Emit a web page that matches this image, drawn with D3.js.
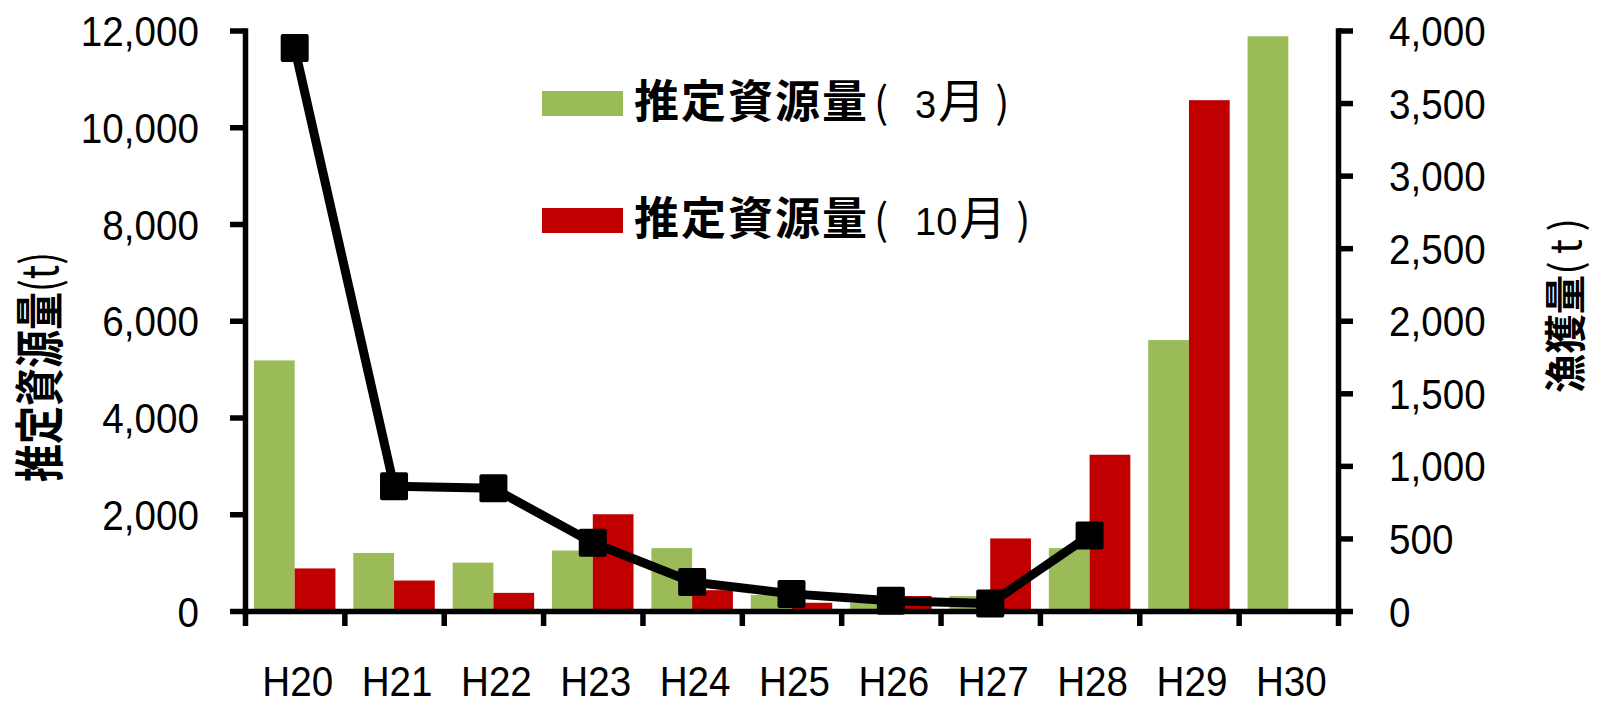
<!DOCTYPE html>
<html>
<head>
<meta charset="utf-8">
<script src="https://cdn.jsdelivr.net/npm/d3@7"></script>
<style>
  html, body { margin: 0; padding: 0; background: #fff; }
  svg { display: block; }
  .tick text { font-family: "Liberation Sans", Arial, sans-serif; fill: #000; }
</style>
</head>
<body>
<svg id="chart" width="1597" height="704"></svg>
<script>
// Fiscal years (Heisei era)
const years = ["H20", "H21", "H22", "H23", "H24", "H25", "H26", "H27", "H28", "H29", "H30"];
// Estimated stock biomass (t), March
const stockMarch = [5180, 1200, 1000, 1250, 1300, 330, 170, 310, 1300, 5600, 11880];
// Estimated stock biomass (t), October
const stockOctober = [880, 630, 375, 2000, 430, 170, 310, 1500, 3230, 10560, null];
// Catch (t)
const catchT = [3880, 860, 845, 470, 200, 118, 70, 52, 520, null, null];

const leftTicks = [0, 2000, 4000, 6000, 8000, 10000, 12000];
const rightTicks = [0, 500, 1000, 1500, 2000, 2500, 3000, 3500, 4000];

const seriesNames = ["推定資源量", "推定資源量"];
const seriesMonthNums = ["3", "10"];
const seriesColors = ["#9BBB59", "#C00000"];

const svg = d3.select("#chart");

const plot = { left: 245, right: 1338, top: 30.5, bottom: 611 };
const AXIS_W = 5.5;
const TXT_SX = 0.92;

const x = d3.scaleBand().domain(years).range([plot.left, plot.right])
  .paddingInner(0.18).paddingOuter(0.09);
const xSub = d3.scaleBand().domain([0, 1]).range([0, x.bandwidth()]);
const yL = d3.scaleLinear().domain([0, 12000]).range([plot.bottom, plot.top]);
const yR = d3.scaleLinear().domain([0, 4000]).range([plot.bottom, plot.top]);

// Bars: March and October biomass side by side in each year
const barData = [];
years.forEach((yr, i) => {
  [stockMarch[i], stockOctober[i]].forEach((v, s) => {
    if (v != null) barData.push({ yr, s, v });
  });
});
svg.append("g").selectAll("rect").data(barData).join("rect")
  .attr("x", d => x(d.yr) + xSub(d.s))
  .attr("width", xSub.bandwidth())
  .attr("y", d => yL(d.v))
  .attr("height", d => yL(0) - yL(d.v))
  .attr("fill", d => seriesColors[d.s]);

// Axes
function styleAxis(g) {
  g.select(".domain").attr("stroke", "#000").attr("stroke-width", AXIS_W).attr("stroke-linecap", "square");
  g.selectAll(".tick line").attr("stroke", "#000").attr("stroke-width", AXIS_W);
}

// Category boundary ticks along the bottom
const xEdges = d3.scaleLinear().domain([0, years.length]).range([plot.left, plot.right]);
svg.append("g")
  .attr("transform", `translate(0,${plot.bottom})`)
  .call(d3.axisBottom(xEdges).tickValues(d3.range(years.length + 1)).tickSize(15).tickSizeOuter(0).tickFormat(""))
  .call(styleAxis);

// Category labels
const xLab = svg.append("g")
  .attr("transform", `translate(0,${plot.bottom})`)
  .call(d3.axisBottom(x).tickSize(0).tickPadding(0));
xLab.select(".domain").remove();
xLab.selectAll(".tick text")
  .attr("font-size", 42)
  .attr("y", 85).attr("dy", 0)
  .attr("x", 3 / TXT_SX)
  .attr("transform", `scale(${TXT_SX},1)`);

const fmt = d3.format(",");

const gL = svg.append("g")
  .attr("transform", `translate(${plot.left},0)`)
  .call(d3.axisLeft(yL).tickValues(leftTicks).tickSize(15).tickSizeOuter(0).tickFormat(fmt))
  .call(styleAxis);
gL.selectAll(".tick text")
  .attr("font-size", 42)
  .attr("x", -46 / TXT_SX).attr("dy", "0.36em")
  .attr("transform", `scale(${TXT_SX},1)`);

const gR = svg.append("g")
  .attr("transform", `translate(${plot.right},0)`)
  .call(d3.axisRight(yR).tickValues(rightTicks).tickSize(15).tickSizeOuter(0).tickFormat(fmt))
  .call(styleAxis);
gR.selectAll(".tick text")
  .attr("font-size", 42)
  .attr("x", 51 / TXT_SX).attr("dy", "0.36em")
  .attr("transform", `scale(${TXT_SX},1)`);

// Axis titles (vertical, reading bottom to top)
const cjk = '"Noto Sans CJK JP", "Noto Sans CJK SC", sans-serif';
function axisTitle(cx, cy, main, size, along, unitSpacing) {
  const t = svg.append("text")
    .attr("transform", `translate(${cx},${cy}) rotate(-90) scale(${along},1)`)
    .attr("text-anchor", "middle")
    .attr("dy", "0.38em")
    .attr("font-family", cjk)
    .attr("font-size", size)
    .attr("fill", "#000");
  t.append("tspan").attr("font-weight", "bold").text(main);
  t.append("tspan").attr("font-weight", "normal").attr("letter-spacing", unitSpacing).text("(t)");
}
axisTitle(39, 367, "推定資源量", 50, 0.76, 0);
axisTitle(1565, 302, "漁獲量", 42, 0.94, 8);

// Catch line with square markers
const linePts = years.map((yr, i) => ({ yr, v: catchT[i] })).filter(d => d.v != null);
const line = d3.line().x(d => x(d.yr) + x.bandwidth() / 2).y(d => yR(d.v));
svg.append("path").datum(linePts)
  .attr("d", line)
  .attr("fill", "none").attr("stroke", "#000").attr("stroke-width", 9)
  .attr("stroke-linejoin", "round");
const M = 28;
svg.append("g").selectAll("rect").data(linePts).join("rect")
  .attr("x", d => x(d.yr) + x.bandwidth() / 2 - M / 2)
  .attr("y", d => yR(d.v) - M / 2)
  .attr("width", M).attr("height", M).attr("rx", 2)
  .attr("fill", "#000");

// Legend
const legRows = [{ y: 91 }, { y: 208 }];
legRows.forEach((r, i) => {
  svg.append("rect").attr("x", 542).attr("y", r.y).attr("width", 81).attr("height", 25)
    .attr("fill", seriesColors[i]);
  const base = r.y + 27;
  const t = svg.append("text").attr("y", base).attr("fill", "#000").attr("font-family", cjk);
  t.append("tspan").attr("x", 634).attr("font-size", 45).attr("font-weight", "bold")
    .attr("letter-spacing", 2).text(seriesNames[i]);
  t.append("tspan").attr("x", 874).attr("font-size", 42).attr("font-weight", "normal").text("(");
  t.append("tspan").attr("x", 915).attr("font-size", 38)
    .attr("font-family", '"Liberation Sans", Arial, sans-serif').text(seriesMonthNums[i]);
  t.append("tspan").attr("dx", 2).attr("font-size", 47).attr("font-weight", "normal").text("月");
  t.append("tspan").attr("dx", 10).attr("font-size", 42).attr("font-weight", "normal").text(")");
});
</script>
</body>
</html>
